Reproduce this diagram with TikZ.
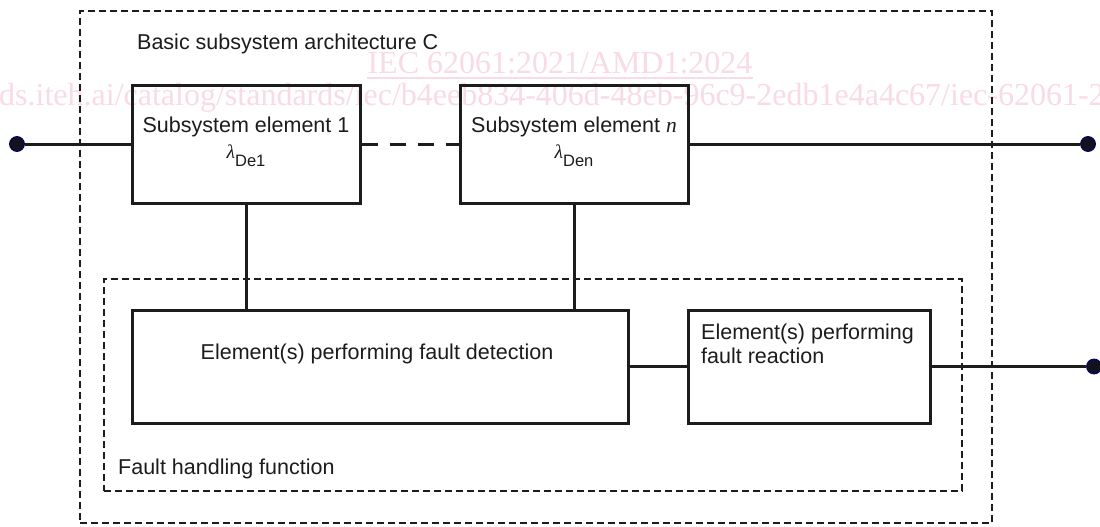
\documentclass[tikz,border=0pt]{standalone}
\usepackage{fontspec}
\setmainfont{Liberation Sans}
\newfontfamily\lmserif{Liberation Serif}
\definecolor{wmc}{RGB}{249,219,227}
\definecolor{ink}{RGB}{28,28,28}
\definecolor{dotc}{RGB}{18,18,30}
\newcommand\mylam[1]{{\fontsize{19.5}{19.5}\selectfont\lmserif\itshape λ}\raisebox{-8pt}{\fontsize{16.5}{16.5}\selectfont #1}}
\tikzset{
  box/.style={draw=ink, line width=3pt, inner sep=0pt},
  frame/.style={draw=ink, line width=1.4pt, dash pattern=on 7pt off 4pt, inner sep=0pt},
  wire/.style={draw=ink, line width=3pt},
  dwire/.style={wire, dash pattern=on 16pt off 12pt},
  term/.style={circle, fill=dotc, draw=blue!45!black, line width=0.8pt, minimum size=15pt, inner sep=0pt},
  lbl/.style={inner sep=0pt, font=\fontsize{21.5}{24}\selectfont, text=ink},
  wmA/.style={inner sep=0pt, font=\lmserif\fontsize{32}{32}\selectfont, text=wmc},
  wmB/.style={inner sep=0pt, font=\lmserif\fontsize{32}{32}\selectfont, text=wmc},
}
\begin{document}
\begin{tikzpicture}[x=1pt,y=-1pt]
\useasboundingbox (0,0) rectangle (1100,527);
\clip (0,0) rectangle (1100,527);
\fill[white] (0,0) rectangle (1100,527);
% watermark
\node[wmA, anchor=base] (wm1) at (560,74) {IEC 62061:2021/AMD1:2024};
\draw[wmc, line width=1.3pt] ([yshift=-4pt]wm1.base west) -- ([yshift=-4pt]wm1.base east);
\node[wmB, anchor=base west] (wm2) at (-1,105) {ds.iteh.ai/catalog/standards/iec/b4eeb834-406d-48eb-96c9-2edb1e4a4c67/iec-62061-2021-amd1-2024};
% frames
\node[frame, minimum width=912pt, minimum height=512pt] (outer) at (536,267) {};
\node[frame, minimum width=858pt, minimum height=212pt] (inner) at (533,385) {};
% boxes
\node[box, minimum width=228pt, minimum height=118pt] (e1) at (246,144) {};
\node[box, minimum width=228pt, minimum height=118pt] (en) at (574,144) {};
\node[box, minimum width=496pt, minimum height=113pt] (det) at (380,366.5) {};
\node[box, minimum width=242pt, minimum height=113pt] (react) at (809,366.5) {};
% terminals
\node[term] (inL) at (17,144) {};
\node[term] (outR) at (1088,144) {};
\node[term] (outF) at (1094,366.5) {};
% texts
\node[lbl, anchor=base west] (tC) at (137,50) {Basic subsystem architecture C};
\node[lbl, anchor=base] (t1) at (246,132) {Subsystem element 1};
\node[lbl, anchor=base] (l1) at (246,158) {\mylam{De1}};
\node[lbl, anchor=base] (tn) at (574,132) {Subsystem element {\lmserif\itshape n}};
\node[lbl, anchor=base] (ln) at (574,158) {\mylam{Den}};
\node[lbl, anchor=base] (td) at (377,359) {Element(s) performing fault detection};
\node[lbl, anchor=base west] (tr1) at (701,339) {Element(s) performing};
\node[lbl, anchor=base west] (tr2) at (701,363) {fault reaction};
\node[lbl, anchor=base west] (tf) at (118,474) {Fault handling function};
% connectors
\draw[wire] (inL) -- (e1);
\draw[dwire] (e1) -- (en);
\draw[wire] (en) -- (outR);
\draw[wire] (e1.south) -- (e1.south |- det.north);
\draw[wire] (en.south) -- (en.south |- det.north);
\draw[wire] (det) -- (react);
\draw[wire] (react) -- (outF);
\end{tikzpicture}
\end{document}
